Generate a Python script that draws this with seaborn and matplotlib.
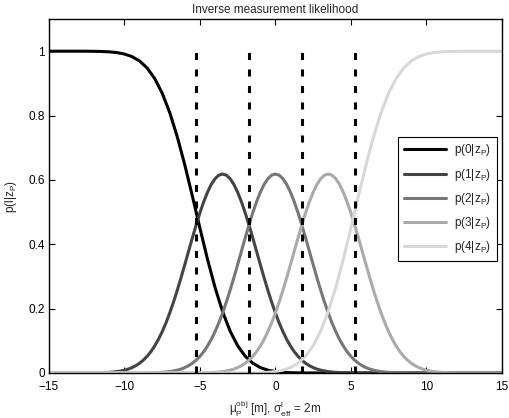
import matplotlib
matplotlib.use("Agg")
import matplotlib.pyplot as plt
import seaborn as sns
import pandas as pd

# ---- data ----
# p(0|z) and p(4|z): sampled every 0.5 m from -15 to 15
x_edge = [-15 + 0.5 * i for i in range(61)]

p0 = [1.0, 1.0, 1.0, 1.0, 1.0, 0.9999, 0.9996, 0.9991, 0.9980, 0.9957,
      0.9912, 0.9832, 0.9696, 0.9479, 0.9154, 0.8697, 0.8092, 0.7340, 0.6462, 0.5497,
      0.4503, 0.3538, 0.2660, 0.1908, 0.1303, 0.0846, 0.0521, 0.0304, 0.0168, 0.0088,
      0.0043, 0.0020, 0.0009, 0.0004, 0.0001, 0.0001] + [0.0] * 25

p4 = [0.0] * 25 + [0.0001, 0.0001, 0.0004, 0.0009, 0.0020, 0.0043, 0.0088, 0.0168, 0.0304, 0.0521,
                   0.0846, 0.1303, 0.1908, 0.2660, 0.3538, 0.4503, 0.5497, 0.6462, 0.7340, 0.8092,
                   0.8697, 0.9154, 0.9479, 0.9696, 0.9832, 0.9912, 0.9957, 0.9980, 0.9991, 0.9996,
                   0.9999, 1.0, 1.0, 1.0, 1.0, 1.0]

# p(1|z), p(2|z), p(3|z): sampled every 0.25 m around each peak, zero at the ends
x_p1 = [-15] + [-12.75 + 0.25 * i for i in range(75)] + [15]
x_p2 = [-15] + [-9.25 + 0.25 * i for i in range(75)] + [15]
x_p3 = [-15] + [-5.75 + 0.25 * i for i in range(75)] + [15]

p1 = [0.0,
      0.0001, 0.0001, 0.0002, 0.0004, 0.0006, 0.0009, 0.0014, 0.0020, 0.0030, 0.0043,
      0.0062, 0.0088, 0.0122, 0.0168, 0.0227, 0.0303, 0.0398, 0.0517, 0.0662, 0.0837,
      0.1043, 0.1283, 0.1557, 0.1865, 0.2204, 0.2572, 0.2963, 0.3370, 0.3785, 0.4199,
      0.4599, 0.4977, 0.5319, 0.5616, 0.5858, 0.6037, 0.6147, 0.6183, 0.6147, 0.6037,
      0.5858, 0.5616, 0.5319, 0.4977, 0.4599, 0.4199, 0.3785, 0.3370, 0.2963, 0.2572,
      0.2204, 0.1865, 0.1557, 0.1283, 0.1043, 0.0837, 0.0662, 0.0517, 0.0398, 0.0303,
      0.0227, 0.0168, 0.0122, 0.0088, 0.0062, 0.0043, 0.0030, 0.0020, 0.0014, 0.0009,
      0.0006, 0.0004, 0.0002, 0.0001, 0.0001,
      0.0]
p2 = [0.0,
      0.0001, 0.0001, 0.0002, 0.0004, 0.0006, 0.0009, 0.0014, 0.0020, 0.0030, 0.0043,
      0.0062, 0.0088, 0.0122, 0.0168, 0.0227, 0.0303, 0.0398, 0.0517, 0.0662, 0.0837,
      0.1043, 0.1283, 0.1557, 0.1865, 0.2204, 0.2572, 0.2963, 0.3370, 0.3785, 0.4199,
      0.4599, 0.4977, 0.5319, 0.5616, 0.5858, 0.6037, 0.6147, 0.6183, 0.6147, 0.6037,
      0.5858, 0.5616, 0.5319, 0.4977, 0.4599, 0.4199, 0.3785, 0.3370, 0.2963, 0.2572,
      0.2204, 0.1865, 0.1557, 0.1283, 0.1043, 0.0837, 0.0662, 0.0517, 0.0398, 0.0303,
      0.0227, 0.0168, 0.0122, 0.0088, 0.0062, 0.0043, 0.0030, 0.0020, 0.0014, 0.0009,
      0.0006, 0.0004, 0.0002, 0.0001, 0.0001,
      0.0]
p3 = [0.0,
      0.0001, 0.0001, 0.0002, 0.0004, 0.0006, 0.0009, 0.0014, 0.0020, 0.0030, 0.0043,
      0.0062, 0.0088, 0.0122, 0.0168, 0.0227, 0.0303, 0.0398, 0.0517, 0.0662, 0.0837,
      0.1043, 0.1283, 0.1557, 0.1865, 0.2204, 0.2572, 0.2963, 0.3370, 0.3785, 0.4199,
      0.4599, 0.4977, 0.5319, 0.5616, 0.5858, 0.6037, 0.6147, 0.6183, 0.6147, 0.6037,
      0.5858, 0.5616, 0.5319, 0.4977, 0.4599, 0.4199, 0.3785, 0.3370, 0.2963, 0.2572,
      0.2204, 0.1865, 0.1557, 0.1283, 0.1043, 0.0837, 0.0662, 0.0517, 0.0398, 0.0303,
      0.0227, 0.0168, 0.0122, 0.0088, 0.0062, 0.0043, 0.0030, 0.0020, 0.0014, 0.0009,
      0.0006, 0.0004, 0.0002, 0.0001, 0.0001,
      0.0]

thresholds = [-5.25, -1.75, 1.75, 5.25]

labels = [r"p(0|z$_\mathrm{P}$)", r"p(1|z$_\mathrm{P}$)", r"p(2|z$_\mathrm{P}$)",
          r"p(3|z$_\mathrm{P}$)", r"p(4|z$_\mathrm{P}$)"]
colors = ["#000000", "#444444", "#777777", "#aaaaaa", "#d8d8d8"]

# ---- style ----
sns.set_style("ticks")
plt.rcParams["font.family"] = ["Liberation Sans", "DejaVu Sans"]
plt.rcParams["mathtext.fontset"] = "custom"
plt.rcParams["mathtext.rm"] = "Liberation Sans"
plt.rcParams["mathtext.it"] = "Liberation Sans"
plt.rcParams["mathtext.default"] = "regular"

rows = []
for lab, xs, ys in zip(labels, [x_edge, x_p1, x_p2, x_p3, x_edge], [p0, p1, p2, p3, p4]):
    for xv, yv in zip(xs, ys):
        rows.append({"x": xv, "y": yv, "series": lab})
df = pd.DataFrame(rows)

fig = plt.figure(figsize=(5.10, 4.18), dpi=100)
ax = fig.add_axes([0.096, 0.1077, 0.888, 0.8468])

sns.lineplot(data=df, x="x", y="y", hue="series", hue_order=labels,
             palette=dict(zip(labels, colors)), linewidth=2.2, ax=ax,
             estimator=None, sort=False)

ax.vlines(thresholds, 0, 1, colors="black", linewidth=2.2,
          linestyles=[(0, (2.3, 3.1))])

ax.set_xlim(-15, 15)
ax.set_ylim(0, 1.1)
ax.set_xticks([-15, -10, -5, 0, 5, 10, 15])
ax.set_xticklabels(["\u221215", "\u221210", "\u22125", "0", "5", "10", "15"])
ax.set_yticks([0, 0.2, 0.4, 0.6, 0.8, 1])
ax.set_yticklabels(["0", "0.2", "0.4", "0.6", "0.8", "1"])
ax.tick_params(direction="in", length=4, width=0.8, labelsize=8.5,
               top=True, right=True, colors="black")
ax.tick_params(axis="x", pad=6)
ax.tick_params(axis="y", pad=3)
for s in ax.spines.values():
    s.set_visible(True)
    s.set_color("black")
    s.set_linewidth(1.0)

ax.set_title("Inverse measurement likelihood", fontsize=8.5, pad=4)
ax.set_xlabel(r"$\mu_\mathrm{P}^\mathrm{obj}$ [m], $\sigma_\mathrm{eff}^\mathrm{l}$ = 2m",
              fontsize=8.5, labelpad=4)
ax.set_ylabel(r"p(l|z$_\mathrm{P}$)", fontsize=8.5, labelpad=7)

leg = ax.legend(loc="upper right", bbox_to_anchor=(0.99, 0.668), fontsize=8.5,
                frameon=True, fancybox=False, edgecolor="black", framealpha=1,
                handlelength=3.6, borderpad=0.5, labelspacing=0.7, handletextpad=0.7,
                borderaxespad=0.0)
leg.get_frame().set_linewidth(0.8)

fig.savefig("out.png", dpi=100)
